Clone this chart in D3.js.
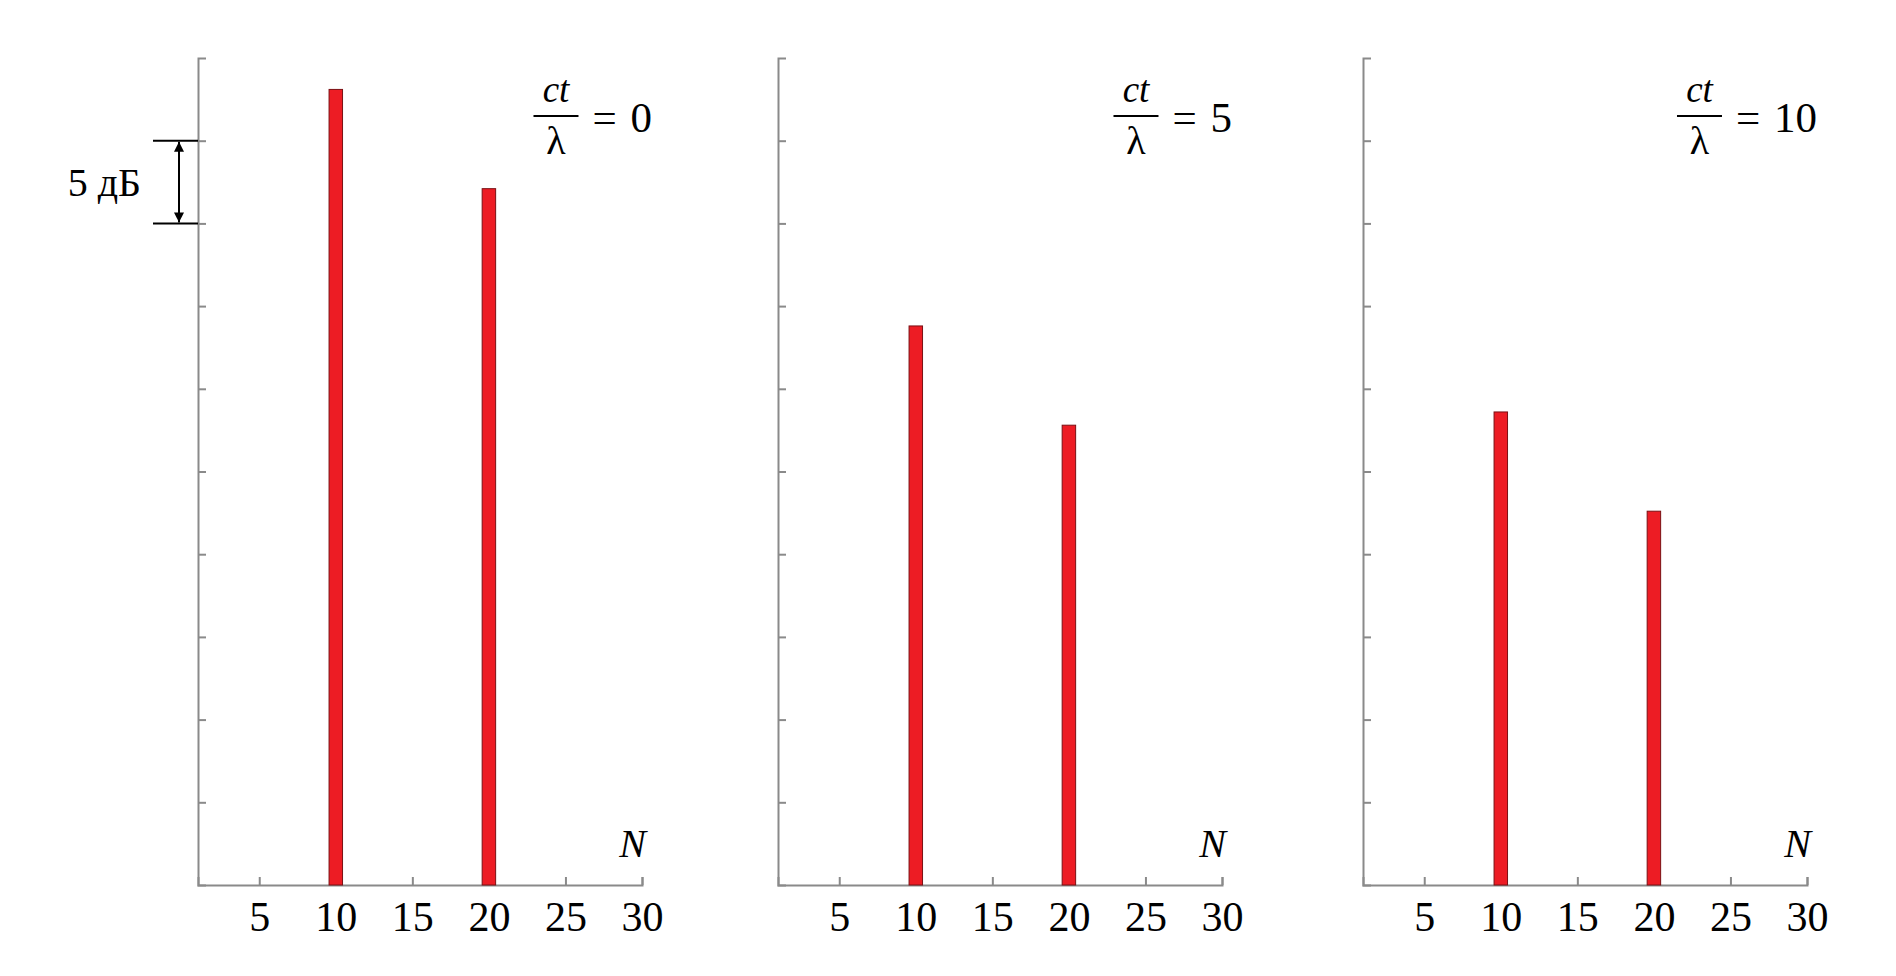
<!doctype html>
<head>
  <meta charset="utf-8">
  <title>Spectrum levels vs N</title>
  <script src="https://d3js.org/d3.v7.min.js"></script>
</head>
<style>
  body { margin: 0; background: #fff; }
  text { font-family: "Liberation Serif", "Times New Roman", serif; fill: #000; }
  .axis path, .axis line { stroke: #8a8a8a; stroke-width: 2px; }
  .bar { fill: #ed1c24; stroke: #7a1014; stroke-width: 1px; }
</style>
<body>
<div id="vis-canvas"></div>
<script>

// harmonics shown on each panel
var harmonics = [10, 20];
// ct / lambda for each panel
var ctLambda = [0, 5, 10];
// relative level, dB (one array per panel, same order as harmonics)
var level0 = [48.1, 42.1];
var level5 = [33.8, 27.8];
var level10 = [28.6, 22.6];
var levels = [level0, level5, level10];
// tick values
var xTicks = [5, 10, 15, 20, 25, 30];
var yTicks = [5, 10, 15, 20, 25, 30, 35, 40, 45];

var W = 1896, H = 976;
var panelLeft = [198, 778, 1363],
    panelWidth = 444,
    plotTop = 58, plotBottom = 885;

var svg = d3.select("#vis-canvas").append("svg")
    .attr("width", W)
    .attr("height", H);

var y = d3.scaleLinear().domain([0, 50]).range([plotBottom, plotTop]);

ctLambda.forEach(function(v, i) {
  var g = svg.append("g")
      .attr("transform", "translate(" + panelLeft[i] + ",0)");

  var x = d3.scaleLinear().domain([1, 30]).range([0, panelWidth]);

  // bars
  var data = harmonics.map(function(n, j) { return {n: n, v: levels[i][j]}; });
  g.selectAll(".bar")
      .data(data)
    .enter().append("rect")
      .attr("class", "bar")
      .attr("x", function(d) { return x(d.n - 0.44); })
      .attr("width", function(d) { return x(d.n + 0.44) - x(d.n - 0.44); })
      .attr("y", function(d) { return y(d.v); })
      .attr("height", function(d) { return y(0) - y(d.v); });

  // Y axis, ticks inward, no labels
  g.append("g")
      .attr("class", "axis")
      .call(d3.axisLeft(y).tickValues(yTicks).tickSize(-8).tickSizeOuter(-8).tickFormat(""));

  // X axis, ticks upward
  var xa = g.append("g")
      .attr("class", "axis")
      .attr("transform", "translate(0," + plotBottom + ")")
      .call(d3.axisBottom(x).tickValues(xTicks).tickSize(-8).tickSizeOuter(-8).tickPadding(16));
  xa.selectAll("text")
      .style("font-size", "42px")
      .style("font-family", '"Liberation Serif", serif')
      .attr("fill", "#000");
  g.selectAll(".bar").raise();

  // N label
  g.append("text")
      .attr("x", x(30) + 4)
      .attr("y", plotBottom - 28)
      .attr("text-anchor", "end")
      .style("font-size", "40px")
      .style("font-style", "italic")
      .text("N");

  // ct/lambda = v
  var rightEdge = x(30) + 10;
  var eq = g.append("text")
      .attr("x", rightEdge)
      .attr("y", 132)
      .attr("text-anchor", "end")
      .style("font-size", "43px")
      .style("word-spacing", "3px")
      .text("= " + v);
  var eqStart = rightEdge - eq.node().getComputedTextLength();
  var lineEnd = eqStart - 14, lineStart = lineEnd - 45;
  g.append("line")
      .attr("x1", lineStart).attr("x2", lineEnd)
      .attr("y1", 116).attr("y2", 116)
      .attr("stroke", "#000").attr("stroke-width", 2);
  g.append("text")
      .attr("x", (lineStart + lineEnd) / 2)
      .attr("y", 102)
      .attr("text-anchor", "middle")
      .style("font-size", "37px")
      .style("font-style", "italic")
      .text("ct");
  g.append("text")
      .attr("x", (lineStart + lineEnd) / 2)
      .attr("y", 154)
      .attr("text-anchor", "middle")
      .style("font-size", "40px")
      .text("λ");
});

// 5 dB scale marker on first panel
svg.append("defs").append("marker")
    .attr("id", "arr")
    .attr("viewBox", "0 0 10 10")
    .attr("refX", 10).attr("refY", 5)
    .attr("markerWidth", 10).attr("markerHeight", 12)
    .attr("markerUnits", "userSpaceOnUse")
    .attr("orient", "auto-start-reverse")
  .append("path")
    .attr("d", "M0,0L10,5L0,10Z")
    .attr("fill", "#000");

var mark = svg.append("g");
[45, 40].forEach(function(d) {
  mark.append("line")
      .attr("x1", 153).attr("x2", panelLeft[0])
      .attr("y1", y(d)).attr("y2", y(d))
      .attr("stroke", "#000").attr("stroke-width", 2);
});
mark.append("line")
    .attr("x1", 179).attr("x2", 179)
    .attr("y1", y(45) + 1).attr("y2", y(40) - 1)
    .attr("stroke", "#000").attr("stroke-width", 2)
    .attr("marker-start", "url(#arr)")
    .attr("marker-end", "url(#arr)");
mark.append("text")
    .attr("x", 141)
    .attr("y", (y(45) + y(40)) / 2 + 14)
    .attr("text-anchor", "end")
    .style("font-size", "40px")
    .text("5 дБ");

</script>
</body>
